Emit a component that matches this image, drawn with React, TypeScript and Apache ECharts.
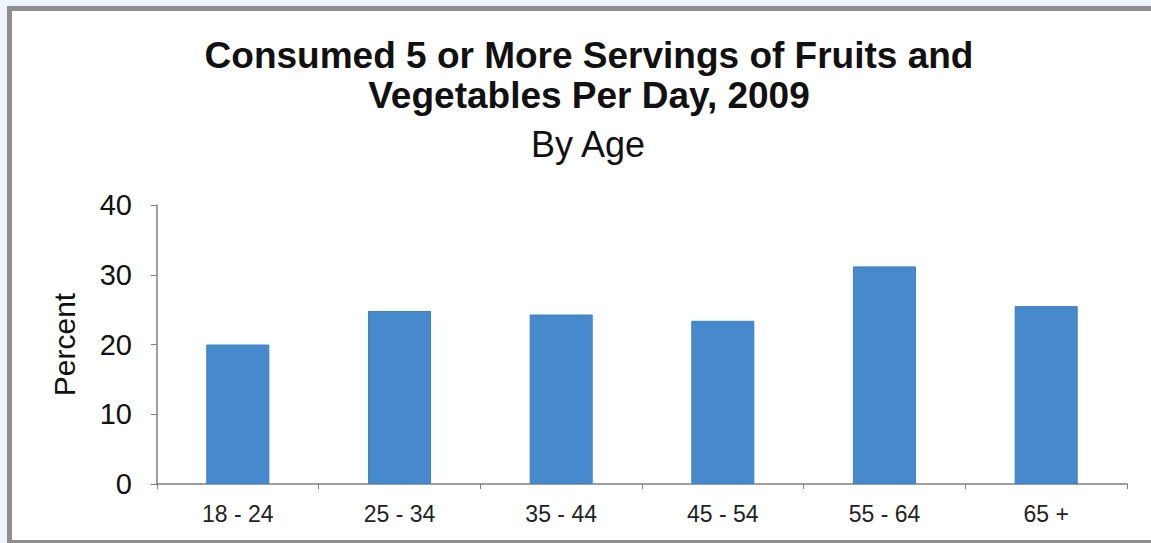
import React, { useEffect, useRef } from "react";
import * as echarts from "echarts";

const categories = ["18 - 24", "25 - 34", "35 - 44", "45 - 54", "55 - 64", "65 +"];
const percentValues = [20.0, 24.8, 24.3, 23.4, 31.2, 25.5];
const yTicks = { min: 0, max: 40, interval: 10 };
const titleLines = ["Consumed 5 or More Servings of Fruits and", "Vegetables Per Day, 2009"];
const subtitleText = "By Age";
const yAxisName = "Percent";

export default function App() {
  const ref = useRef<HTMLDivElement>(null);
  useEffect(() => {
    if (!ref.current) return;
    const chart = echarts.init(ref.current, null, { renderer: "svg" });
    const font = "'Liberation Sans', Arial, Helvetica, sans-serif";
    chart.setOption({
      animation: false,
      backgroundColor: "transparent",
      title: [
        {
          text: titleLines.join("\n"),
          left: 584,
          top: 30,
          textAlign: "center",
          textStyle: { fontFamily: font, fontSize: 37, fontWeight: "bold", color: "#111", lineHeight: 40 },
        },
        {
          text: subtitleText,
          left: 583,
          top: 119,
          textAlign: "center",
          textStyle: { fontFamily: font, fontSize: 36, fontWeight: "normal", color: "#111", lineHeight: 40 },
        },
      ],
      grid: { left: 157, right: 24, top: 205, bottom: 59, containLabel: false },
      xAxis: {
        type: "category",
        data: categories,
        axisLine: { lineStyle: { color: "#7f7f7f", width: 1.5 } },
        axisTick: { show: true, length: 5, lineStyle: { color: "#7f7f7f" } },
        axisLabel: { fontFamily: font, fontSize: 23, color: "#222", margin: 18 },
      },
      yAxis: {
        type: "value",
        min: yTicks.min,
        max: yTicks.max,
        interval: yTicks.interval,
        name: yAxisName,
        nameLocation: "middle",
        nameGap: 78,
        nameRotate: 90,
        nameTextStyle: { fontFamily: font, fontSize: 30, color: "#111" },
        axisLine: { show: true, lineStyle: { color: "#7f7f7f", width: 1.5 } },
        axisTick: { show: true, length: 6, lineStyle: { color: "#7f7f7f" } },
        axisLabel: { fontFamily: font, fontSize: 29, color: "#111", margin: 25 },
        splitLine: { show: false },
      },
      series: [
        {
          type: "bar",
          data: percentValues,
          barWidth: "39%",
          itemStyle: { color: "#4689cd", borderColor: "#3d80c6", borderWidth: 1 },
        },
      ],
    });
    return () => chart.dispose();
  }, []);

  return (
    <div style={{ position: "fixed", left: 0, top: 0, width: 1151, height: 543, background: "#eef5fa", overflow: "hidden" }}>
      <div
        style={{
          position: "absolute",
          left: 7,
          top: 6,
          width: 1151,
          height: 540 - 6 + 3,
          borderLeft: "5px solid #8e8e8e",
          borderTop: "5px solid #8e8e8e",
          borderBottom: "3px solid #8e8e8e",
          background: "#ffffff",
          boxSizing: "border-box",
        }}
      />
      <div ref={ref} style={{ position: "absolute", left: 0, top: 0, width: 1151, height: 543 }} />
    </div>
  );
}
